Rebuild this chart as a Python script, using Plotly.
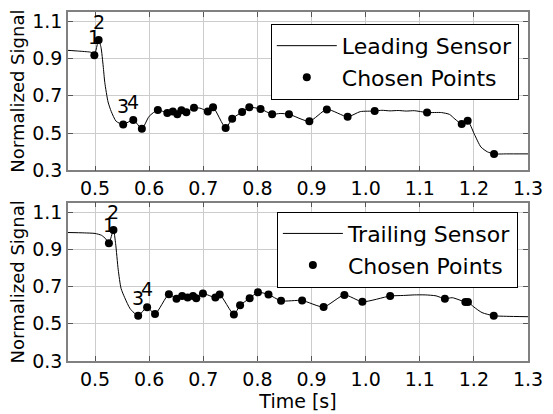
import plotly.graph_objects as go
from plotly.subplots import make_subplots

# ---------------- data ----------------
# Leading sensor: chosen points
lead_pts_x = [0.4987, 0.5066, 0.552, 0.5706, 0.5865, 0.616, 0.6335, 0.6437, 0.652, 0.6596,
              0.6687, 0.6828, 0.7083, 0.718, 0.7413, 0.7534, 0.7717, 0.785, 0.8058, 0.8272,
              0.8583, 0.896, 0.9283, 0.9667, 1.0167, 1.1135, 1.1775, 1.1885, 1.2373]
lead_pts_y = [0.918, 1.000, 0.546, 0.570, 0.523, 0.624, 0.608, 0.615, 0.601, 0.622,
              0.612, 0.636, 0.615, 0.638, 0.527, 0.577, 0.613, 0.638, 0.629, 0.601,
              0.601, 0.563, 0.627, 0.587, 0.618, 0.610, 0.549, 0.566, 0.388]
# Leading sensor: signal trace
lead_x = [0.45, 0.47, 0.49, 0.4938, 0.4987, 0.5066, 0.511, 0.515, 0.518, 0.524, 0.530, 0.539,
          0.552, 0.5706, 0.5865, 0.600, 0.616, 0.6335, 0.6437, 0.652, 0.6596, 0.6687, 0.6828,
          0.696, 0.7083, 0.718, 0.7413, 0.7534, 0.7717, 0.785, 0.8058, 0.8272, 0.842, 0.8583,
          0.896, 0.9283, 0.9667, 0.990, 1.0167, 1.03, 1.045, 1.06, 1.075, 1.09, 1.1135, 1.14,
          1.155, 1.165, 1.1775, 1.1885, 1.2008, 1.213, 1.225, 1.2373, 1.26, 1.30]
lead_y = [0.944, 0.940, 0.935, 0.932, 0.918, 1.000, 0.960, 0.860, 0.771, 0.667, 0.615, 0.563,
          0.546, 0.570, 0.523, 0.590, 0.624, 0.608, 0.615, 0.601, 0.622, 0.612, 0.636,
          0.632, 0.615, 0.638, 0.527, 0.577, 0.613, 0.638, 0.629, 0.601, 0.605, 0.601,
          0.563, 0.627, 0.587, 0.615, 0.618, 0.622, 0.619, 0.621, 0.618, 0.620, 0.610, 0.610,
          0.600, 0.575, 0.549, 0.566, 0.494, 0.425, 0.399, 0.388, 0.388, 0.388]

# Trailing sensor: chosen points
trail_pts_x = [0.5256, 0.534, 0.5797, 0.5962, 0.6108, 0.6364, 0.6505, 0.6609, 0.6711, 0.681,
               0.687, 0.6993, 0.7223, 0.7303, 0.7565, 0.768, 0.7857, 0.801, 0.8205, 0.8437,
               0.8826, 0.9223, 0.9607, 0.994, 1.0453, 1.1464, 1.1842, 1.189, 1.2367]
trail_pts_y = [0.933, 1.003, 0.5435, 0.589, 0.552, 0.658, 0.634, 0.649, 0.641, 0.649,
               0.637, 0.662, 0.641, 0.657, 0.550, 0.599, 0.637, 0.669, 0.657, 0.623,
               0.625, 0.590, 0.655, 0.618, 0.649, 0.634, 0.617, 0.617, 0.543]
# Trailing sensor: signal trace
trail_x = [0.45, 0.48, 0.50, 0.512, 0.520, 0.5256, 0.534, 0.538, 0.5428, 0.548, 0.5548, 0.565,
           0.5797, 0.5962, 0.6108, 0.6364, 0.6505, 0.6609, 0.6711, 0.681, 0.687, 0.6993,
           0.7223, 0.7303, 0.7565, 0.768, 0.7857, 0.801, 0.8205, 0.8437, 0.8826, 0.9223,
           0.9607, 0.994, 1.0453, 1.07, 1.09, 1.11, 1.13, 1.1464, 1.16, 1.1842, 1.189, 1.200,
           1.215, 1.2367, 1.26, 1.30]
trail_y = [0.990, 0.988, 0.985, 0.975, 0.955, 0.933, 1.003, 0.930, 0.790, 0.690, 0.640, 0.580,
           0.5435, 0.589, 0.552, 0.658, 0.634, 0.649, 0.641, 0.649, 0.637, 0.662,
           0.641, 0.657, 0.550, 0.599, 0.637, 0.669, 0.657, 0.623, 0.625, 0.590,
           0.655, 0.618, 0.649, 0.652, 0.655, 0.655, 0.650, 0.634, 0.640, 0.617, 0.617, 0.590,
           0.560, 0.543, 0.540, 0.538]

labels = ["1", "2", "3", "4"]
x_ticks = [0.5, 0.6, 0.7, 0.8, 0.9, 1.0, 1.1, 1.2, 1.3]
y_ticks = [0.3, 0.5, 0.7, 0.9, 1.1]

FONT = "DejaVu Sans"

fig = make_subplots(rows=2, cols=1, vertical_spacing=0.093)

fig.add_trace(go.Scatter(x=lead_x, y=lead_y, mode="lines", name="Leading Sensor",
                         line=dict(color="black", width=1, shape="spline", smoothing=0.6),
                         legend="legend"), row=1, col=1)
fig.add_trace(go.Scatter(x=lead_pts_x, y=lead_pts_y, mode="markers", name="Chosen Points",
                         marker=dict(color="black", size=8), legend="legend"), row=1, col=1)
fig.add_trace(go.Scatter(x=trail_x, y=trail_y, mode="lines", name="Trailing Sensor",
                         line=dict(color="black", width=1, shape="spline", smoothing=0.6),
                         legend="legend2"), row=2, col=1)
fig.add_trace(go.Scatter(x=trail_pts_x, y=trail_pts_y, mode="markers", name="Chosen Points",
                         marker=dict(color="black", size=8), legend="legend2"), row=2, col=1)

for i, lab in enumerate(labels):
    fig.add_annotation(x=lead_pts_x[i], y=lead_pts_y[i], text=lab, showarrow=False,
                       yshift=18, font=dict(family=FONT, size=19, color="black"),
                       xref="x", yref="y")
    fig.add_annotation(x=trail_pts_x[i], y=trail_pts_y[i], text=lab, showarrow=False,
                       yshift=18, font=dict(family=FONT, size=19, color="black"),
                       xref="x2", yref="y2")

axis_common = dict(showline=True, linecolor="#808080", linewidth=1.5, mirror="ticks",
                   ticks="inside", ticklen=5, tickcolor="#555555", tickwidth=1,
                   showgrid=True, gridcolor="#cccccc", gridwidth=1, zeroline=False,
                   tickfont=dict(family=FONT, size=19, color="black"))

for r in (1, 2):
    fig.update_xaxes(range=[0.45, 1.3], tickvals=x_ticks,
                     ticktext=[f"{v:.1f}" for v in x_ticks], row=r, col=1, **axis_common)
    fig.update_yaxes(range=[0.3, 1.15], tickvals=y_ticks,
                     ticktext=[f"{v:.1f}" for v in y_ticks], row=r, col=1,
                     title=dict(text="Normalized Signal", standoff=3,
                                font=dict(family=FONT, size=18, color="black")),
                     **axis_common)
fig.update_xaxes(title=dict(text="Time [s]", standoff=1,
                            font=dict(family=FONT, size=19, color="black")), row=2, col=1)

legend_common = dict(bgcolor="white", bordercolor="black", borderwidth=1,
                     font=dict(family=FONT, size=22, color="black"),
                     xanchor="right", yanchor="top", itemwidth=60,
                     tracegroupgap=0)
fig.update_layout(
    width=553, height=414,
    margin=dict(l=68, r=17, t=10, b=43),
    plot_bgcolor="white", paper_bgcolor="white",
    font=dict(family=FONT, color="black"),
    showlegend=True,
    legend=dict(x=0.98, y=0.966, **legend_common),
    legend2=dict(x=0.978, y=0.428, **legend_common),
)

fig.write_html("out.html")
